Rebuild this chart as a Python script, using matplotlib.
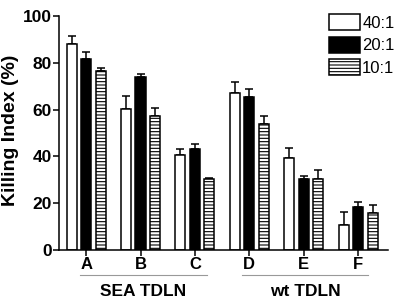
import matplotlib
matplotlib.use("Agg")
import matplotlib.pyplot as plt
import matplotlib.transforms as mtransforms
import numpy as np

plt.rcParams['font.family'] = ['Liberation Sans', 'DejaVu Sans']
plt.rcParams['hatch.linewidth'] = 0.8

# data
groups = ['A', 'B', 'C', 'D', 'E', 'F']
ratios = ['40:1', '20:1', '10:1']
means = {
    '40:1': [88.0, 60.3, 40.6, 67.0, 39.4, 10.7],
    '20:1': [81.5, 74.0, 43.3, 65.3, 30.2, 18.4],
    '10:1': [76.6, 57.4, 30.5, 54.0, 30.2, 15.9],
}
errors = {
    '40:1': [3.6, 5.6, 2.4, 4.8, 4.2, 5.5],
    '20:1': [3.2, 1.2, 2.0, 3.4, 1.5, 2.0],
    '10:1': [1.0, 3.4, 0.5, 3.2, 4.0, 3.4],
}
sections = [('SEA TDLN', -0.11, 2.22), ('wt TDLN', 2.87, 5.18)]

styles = {
    '40:1': dict(color='white', hatch=None),
    '20:1': dict(color='black', hatch=None),
    '10:1': dict(color='white', hatch='-----'),
}

fig = plt.figure(figsize=(3.98, 3.02), dpi=100)
ax = fig.add_axes([0.148, 0.172, 0.827, 0.775])

x = np.arange(len(groups))
step = 0.267
width = 0.185
handles = []
for i, r in enumerate(ratios):
    pos = x + (i - 1) * step
    b = ax.bar(pos, means[r], width, color=styles[r]['color'], edgecolor='black',
               linewidth=1.1, hatch=styles[r]['hatch'], label=r, zorder=2)
    ax.errorbar(pos, means[r], yerr=[np.zeros(len(groups)), errors[r]], fmt='none',
                ecolor='black', elinewidth=1.1, capsize=3, capthick=1.1, zorder=1)
    handles.append(b)

ax.set_xlim(-0.5, 5.55)
ax.set_ylim(0, 100)
ax.set_yticks([0, 20, 40, 60, 80, 100])
ax.set_xticks(x)
ax.set_xticklabels(groups, fontsize=12, fontweight='bold')
for lab in ax.get_yticklabels():
    lab.set_fontsize(12.5)
    lab.set_fontweight('bold')
ax.tick_params(axis='both', direction='out', length=4, width=1.1, pad=1)
ax.spines['top'].set_visible(False)
ax.spines['right'].set_visible(False)
ax.spines['left'].set_linewidth(1.1)
ax.spines['bottom'].set_linewidth(1.1)
ax.set_ylabel('Killing Index (%)', fontsize=14, fontweight='bold')
ax.yaxis.set_label_coords(-0.122, 0.51)

trans = mtransforms.blended_transform_factory(ax.transData, ax.transAxes)
for name, x0, x1 in sections:
    ax.plot([x0, x1], [-0.107, -0.107], color='#999999', linewidth=0.8,
            transform=trans, clip_on=False)
    ax.text((x0 + x1) / 2, -0.175, name, transform=trans, ha='center', va='center',
            fontsize=12.5, fontweight='bold')

leg = fig.legend(handles=handles, labels=ratios, loc='upper right',
                 bbox_to_anchor=(1.008, 0.975), frameon=False, fontsize=12,
                 handlelength=1.9, handleheight=1.1, handletextpad=0.1,
                 labelspacing=0.35, borderaxespad=0)

fig.savefig('out.png', dpi=100)
